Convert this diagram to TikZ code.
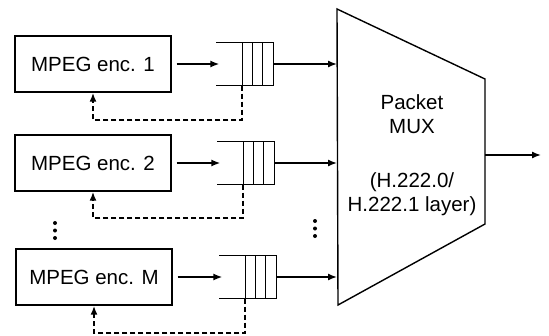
\documentclass[tikz,border=0pt]{standalone}
\usepackage{fontspec}
\setmainfont{Liberation Sans}
\usetikzlibrary{arrows.meta}

\begin{document}
\begin{tikzpicture}[x=1pt, y=-1pt, line width=1.4pt, >={Latex[length=9pt,width=7pt]},
  encoder/.style={draw, rectangle, minimum width=156pt, minimum height=56pt, inner sep=0pt, font=\fontsize{20.5}{24}\selectfont},
  queue/.style={rectangle, minimum width=56pt, minimum height=42pt, inner sep=0pt},
  feedback/.style={dash pattern=on 5pt off 3pt, line width=2.2pt},
  dot/.style={circle, fill, inner sep=0pt, minimum size=4pt}]
\useasboundingbox (0,0) rectangle (549,335);

\node (enc1) at (93,64) [encoder] {MPEG enc. 1};
\node (enc2) at (93,163) [encoder] {MPEG enc. 2};
\node (encM) at (94,277) [encoder] {MPEG enc. M};

\node (q1) at (245,64) [queue] {};
\node (q2) at (246,163) [queue] {};
\node (qM) at (248,277) [queue] {};

% queues: open on the left, three cells on the right
\draw (q1.north west) -- (q1.north east) -- (q1.south east) -- (q1.south west);
\draw ([xshift=26pt]q1.north west) -- ([xshift=26pt]q1.south west);
\draw ([xshift=36pt]q1.north west) -- ([xshift=36pt]q1.south west);
\draw ([xshift=46pt]q1.north west) -- ([xshift=46pt]q1.south west);
\draw (q2.north west) -- (q2.north east) -- (q2.south east) -- (q2.south west);
\draw ([xshift=26pt]q2.north west) -- ([xshift=26pt]q2.south west);
\draw ([xshift=36pt]q2.north west) -- ([xshift=36pt]q2.south west);
\draw ([xshift=46pt]q2.north west) -- ([xshift=46pt]q2.south west);
\draw (qM.north west) -- (qM.north east) -- (qM.south east) -- (qM.south west);
\draw ([xshift=26pt]qM.north west) -- ([xshift=26pt]qM.south west);
\draw ([xshift=36pt]qM.north west) -- ([xshift=36pt]qM.south west);
\draw ([xshift=46pt]qM.north west) -- ([xshift=46pt]qM.south west);

% multiplexer
\coordinate (mtl) at (337,9);
\coordinate (mtr) at (485,79);
\coordinate (mbr) at (485,224);
\coordinate (mbl) at (338,305);
\draw (mtl) -- (mtr) -- (mbr) -- (mbl) -- cycle;
\node (mux) at (412,155) [align=center, font=\fontsize{20.5}{24}\selectfont] {Packet\\MUX\\[30pt](H.222.0/\\H.222.1 layer)};
\coordinate (mout) at (485,155);
\coordinate (out) at (541,155);

\draw[->, shorten <=5pt, shorten >=-3pt] (enc1.east) -- (q1.west);
\draw[->, shorten <=5pt, shorten >=-3pt] (enc2.east) -- (q2.west);
\draw[->, shorten <=5pt, shorten >=-3pt] (encM.east) -- (qM.west);

\draw[->] (q1.east) -- (q1.east -| mtl);
\draw[->] (q2.east) -- (q2.east -| mtl);
\draw[->] (qM.east) -- (qM.east -| mtl);
\draw[->] (mout) -- (out);

\draw[feedback, ->] ([xshift=26pt]q1.south west) -- ++(0,34) -| (enc1.south);
\draw[feedback, ->] ([xshift=26pt]q2.south west) -- ++(0,33) -| (enc2.south);
\draw[feedback, ->] ([xshift=26pt]qM.south west) -- ++(0,34) -| (encM.south);

\node (d1) at (55,223) [dot] {};
\node (d2) at (55,230.5) [dot] {};
\node (d3) at (55,238) [dot] {};
\node (d4) at (315,221) [dot] {};
\node (d5) at (315,228.5) [dot] {};
\node (d6) at (315,236) [dot] {};
\end{tikzpicture}
\end{document}
